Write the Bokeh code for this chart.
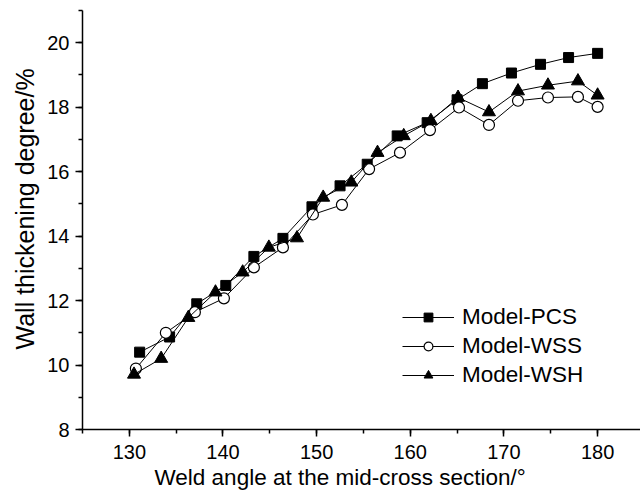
from bokeh.plotting import figure
from bokeh.models import SingleIntervalTicker, Range1d, Legend, LegendItem, Title
from bokeh.embed import file_html
from bokeh.resources import INLINE

# Data
angle_pcs = [131.1, 134.3, 137.2, 140.3, 143.3, 146.4, 149.5, 152.5, 155.4, 158.6,
             161.8, 165.0, 167.7, 170.8, 173.9, 176.9, 180.0]
pcs = [10.40, 10.87, 11.90, 12.47, 13.37, 13.93, 14.91, 15.56, 16.23, 17.11,
       17.52, 18.23, 18.73, 19.06, 19.33, 19.54, 19.67]

angle_wss = [130.7, 133.9, 137.0, 140.1, 143.3, 146.4, 149.6, 152.7, 155.6, 158.9,
             162.1, 165.2, 168.4, 171.5, 174.7, 177.9, 180.0]
wss = [9.89, 11.00, 11.64, 12.07, 13.03, 13.65, 14.67, 14.97, 16.08, 16.59,
       17.29, 17.99, 17.45, 18.20, 18.30, 18.32, 18.01]

angle_wsh = [130.5, 133.4, 136.3, 139.2, 142.1, 144.9, 147.9, 150.7, 153.7, 156.5,
             159.3, 162.2, 165.1, 168.4, 171.5, 174.7, 177.9, 180.0]
wsh = [9.71, 10.20, 11.47, 12.26, 12.88, 13.65, 13.94, 15.20, 15.67, 16.59,
       17.11, 17.58, 18.30, 17.85, 18.50, 18.68, 18.81, 18.37]

series_names = ["Model-PCS", "Model-WSS", "Model-WSH"]
x_label = "Weld angle at the mid-cross section/°"
y_label = "Wall thickening degree/%"

FONT = "Liberation Sans"

p = figure(width=640, height=493, output_backend="svg", toolbar_location=None,
           x_range=Range1d(125, 184.58), y_range=Range1d(8, 21),
           min_border_left=82, min_border_right=0, min_border_top=10, min_border_bottom=64)

p.grid.visible = False
p.outline_line_color = None
p.background_fill_color = "white"
p.border_fill_color = "white"

p.xaxis.ticker = SingleIntervalTicker(interval=10, num_minor_ticks=2)
p.yaxis.ticker = SingleIntervalTicker(interval=2, num_minor_ticks=2)
for ax in (p.xaxis, p.yaxis):
    ax.axis_line_width = 1.5
    ax.axis_line_color = "black"
    ax.major_tick_line_width = 1.5
    ax.minor_tick_line_width = 1.5
    ax.major_tick_in = 0
    ax.major_tick_out = 7
    ax.minor_tick_in = 0
    ax.minor_tick_out = 4
    ax.major_label_text_font = FONT
    ax.major_label_text_font_size = "20px"
    ax.major_label_text_color = "black"

p.xaxis.major_label_standoff = 8
p.yaxis.major_label_standoff = 6

xt = Title(text=x_label, align="left", offset=72, text_font=FONT, text_font_size="22.5px",
           text_font_style="normal", text_color="black", standoff=2)
p.add_layout(xt, "below")

yt = Title(text=y_label, align="left", offset=80, text_font=FONT, text_font_size="25px",
           text_font_style="normal", text_color="black", standoff=12)
p.add_layout(yt, "left")

l1 = p.line(angle_pcs, pcs, line_color="black", line_width=1)
m1 = p.scatter(angle_pcs, pcs, marker="square", size=10, fill_color="black", line_color="black")
l2 = p.line(angle_wss, wss, line_color="black", line_width=1)
m2 = p.scatter(angle_wss, wss, marker="circle", size=11, fill_color="white", line_color="black", line_width=1.2)
l3 = p.line(angle_wsh, wsh, line_color="black", line_width=1)
m3 = p.scatter(angle_wsh, wsh, marker="triangle", size=13, fill_color="black", line_color="black")

legend = Legend(items=[
    LegendItem(label=series_names[0], renderers=[l1, m1]),
    LegendItem(label=series_names[1], renderers=[l2, m2]),
    LegendItem(label=series_names[2], renderers=[l3, m3]),
], location=(320, 41))
legend.border_line_color = None
legend.background_fill_alpha = 0
legend.padding = 0
legend.margin = 0
legend.spacing = 3
legend.glyph_width = 52
legend.glyph_height = 22
legend.label_height = 22
legend.label_standoff = 8
legend.label_text_font = FONT
legend.label_text_font_size = "22.5px"
legend.label_text_color = "black"
p.add_layout(legend, "center")

open("out.html", "w").write(file_html(p, INLINE))
